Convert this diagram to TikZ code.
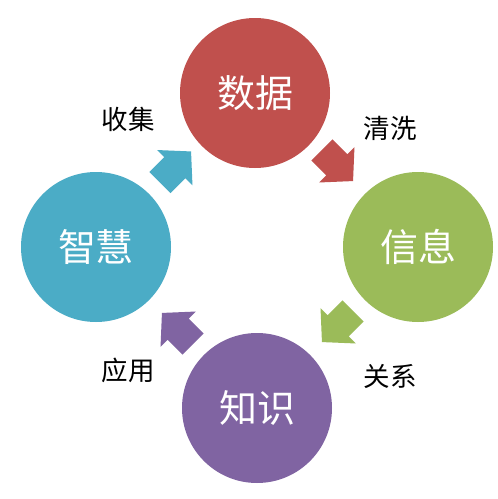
\documentclass[tikz,border=0pt]{standalone}
\usepackage{fontspec}
\setmainfont{Noto Sans CJK SC}
\newfontfamily\cjk{Noto Sans CJK SC}
\definecolor{cred}{HTML}{C0504D}
\definecolor{cgreen}{HTML}{9BBB59}
\definecolor{cpurple}{HTML}{8064A2}
\definecolor{cblue}{HTML}{4BACC6}
\tikzset{
  stage/.style={circle, minimum size=150pt, inner sep=0pt, text=white, font=\cjk\fontsize{38}{40}\selectfont},
  lbl/.style={inner sep=0pt, text=black, font=\cjk\fontsize{26.5}{28}\selectfont},
  fatarrow/.pic={\fill (-22,-15) -- (-1,-15) -- (-1,-25) -- (22,0) -- (-1,25) -- (-1,15) -- (-22,15) -- cycle;}
}
\begin{document}
\begin{tikzpicture}[x=1pt,y=-1pt]
\useasboundingbox[fill=white] (0,0) rectangle (498,499);
\node[stage, fill=cred] (data) at (255,93) {数据};
\node[stage, fill=cgreen] (info) at (418,247) {信息};
\node[stage, fill=cpurple] (know) at (257,408) {知识};
\node[stage, fill=cblue] (wisdom) at (96,247) {智慧};
\pic[cblue, rotate=45] at (175.5,167) {fatarrow};
\pic[cred, rotate=-45] at (337.5,165.5) {fatarrow};
\pic[cgreen, rotate=-135] at (337.5,326.5) {fatarrow};
\pic[cpurple, rotate=135] at (177.5,328.5) {fatarrow};
\node[lbl] (l1) at (128,119) {收集};
\node[lbl] (l2) at (390,128) {清洗};
\node[lbl] (l3) at (390,376) {关系};
\node[lbl] (l4) at (128,370) {应用};
\end{tikzpicture}
\end{document}
